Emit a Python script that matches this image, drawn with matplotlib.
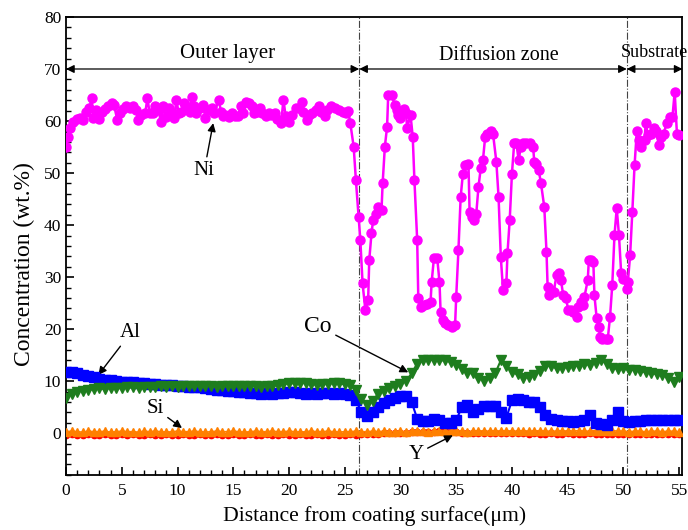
import numpy as np
import matplotlib
matplotlib.use("Agg")
import matplotlib.pyplot as plt
from matplotlib.ticker import MultipleLocator

plt.rcParams['font.family'] = ['Liberation Serif', 'DejaVu Serif']
plt.rcParams['mathtext.fontset'] = 'stix'

# ---------------- data ----------------
ni_x = [0.0, 0.2, 0.35, 0.66, 0.95, 1.25, 1.55, 1.8, 2.1, 2.3, 2.45, 2.7, 3.0, 3.2, 3.5, 3.8, 4.1, 4.3, 4.6, 4.8,
        5.1, 5.4, 5.7, 6.0, 6.3, 6.45, 6.75, 7.1, 7.3, 7.5, 7.8, 8.0, 8.3, 8.5, 8.7, 9.0, 9.2, 9.5, 9.7, 9.9,
        10.1, 10.3, 10.6, 10.8, 11.1, 11.3, 11.5, 11.7, 12.0, 12.3, 12.5, 12.8, 13.1, 13.3, 13.7, 13.9, 14.1, 14.3, 14.6, 14.9,
        15.2, 15.4, 15.7, 15.9, 16.1, 16.4, 16.7, 16.9, 17.1, 17.4, 17.6, 17.9, 18.2, 18.4, 18.7, 18.9, 19.3, 19.5, 19.7, 20.0,
        20.3, 20.6, 20.9, 21.2, 21.3, 21.6, 21.8, 22.1, 22.4, 22.7, 22.9, 23.2, 23.4, 23.8, 24.1, 24.5, 24.8, 25.1, 25.3, 25.5,
        25.8, 26.0, 26.25, 26.4, 26.6, 26.85, 27.1, 27.2, 27.4, 27.55, 27.8, 28.0, 28.3, 28.4, 28.6, 28.8, 28.9, 29.2, 29.5, 29.7,
        29.8, 30.0, 30.3, 30.5, 30.6, 30.9, 31.1, 31.25, 31.5, 31.6, 31.8, 32.1, 32.4, 32.7, 32.8, 33.0, 33.3, 33.5, 33.6, 33.8,
        34.0, 34.3, 34.6, 34.9, 35.0, 35.2, 35.4, 35.6, 35.8, 36.1, 36.2, 36.4, 36.6, 36.8, 37.0, 37.2, 37.4, 37.6, 37.8, 38.1,
        38.3, 38.6, 38.8, 39.0, 39.2, 39.5, 39.6, 39.8, 40.0, 40.2, 40.4, 40.6, 40.8, 41.0, 41.3, 41.6, 41.9, 42.0, 42.2, 42.4,
        42.6, 42.9, 43.1, 43.2, 43.3, 43.5, 43.75, 44.0, 44.2, 44.4, 44.6, 44.85, 45.05, 45.3, 45.5, 45.8, 45.95, 46.2, 46.4, 46.5,
        46.8, 46.9, 47.1, 47.3, 47.4, 47.6, 47.8, 47.9, 48.1, 48.4, 48.6, 48.8, 49.0, 49.2, 49.4, 49.6, 49.8, 50.0, 50.3, 50.4,
        50.6, 50.8, 51.0, 51.2, 51.4, 51.6, 51.9, 52.0, 52.2, 52.5, 52.7, 52.9, 53.2, 53.4, 53.6, 53.9, 54.2, 54.4, 54.6, 54.8,
        55.0]
ni_y = [55.0, 57.0, 58.6, 59.9, 60.3, 60.5, 60.2, 61.8, 62.5, 64.4, 60.5, 62.1, 60.3, 61.8, 62.3, 62.8, 63.5, 63.1, 60.2, 61.5,
        62.3, 62.8, 62.6, 62.9, 62.1, 60.2, 61.2, 61.5, 64.4, 61.5, 61.5, 62.8, 62.1, 59.9, 62.8, 60.8, 62.5, 61.5, 60.5, 64.1,
        61.5, 61.8, 63.4, 62.8, 61.8, 64.7, 62.8, 61.5, 62.5, 63.1, 60.5, 62.1, 62.5, 61.5, 64.1, 61.8, 61.0, 61.2, 60.7, 61.5,
        60.9, 61.0, 62.8, 61.5, 63.7, 63.4, 62.8, 61.5, 61.8, 62.5, 61.5, 61.0, 61.5, 61.2, 61.5, 60.3, 59.6, 64.1, 60.9, 59.9,
        61.2, 62.5, 62.5, 63.7, 61.8, 60.2, 61.2, 61.5, 62.1, 62.8, 61.8, 60.9, 62.1, 62.8, 62.5, 62.1, 61.8, 61.5, 62.0, 59.6,
        55.1, 48.7, 41.6, 37.1, 28.8, 23.7, 25.6, 33.3, 38.4, 41.0, 42.2, 43.5, 42.9, 48.0, 55.1, 58.9, 65.0, 65.0, 63.1, 62.1,
        61.2, 60.5, 62.4, 61.5, 58.6, 61.2, 57.0, 48.7, 37.1, 25.9, 24.3, 24.6, 24.9, 25.3, 29.1, 33.6, 33.6, 29.1, 23.3, 21.7,
        21.1, 20.8, 20.5, 20.8, 26.2, 35.2, 45.4, 49.9, 51.5, 51.8, 42.6, 41.6, 41.0, 42.2, 47.4, 50.9, 52.5, 57.0, 57.6, 58.0,
        57.6, 52.2, 45.4, 33.9, 27.5, 28.8, 34.6, 41.0, 49.9, 55.7, 55.7, 52.5, 55.1, 55.7, 55.7, 55.8, 55.1, 52.2, 51.8, 50.6,
        48.1, 43.5, 34.9, 28.2, 26.5, 27.5, 27.2, 30.4, 30.7, 29.4, 26.5, 25.9, 23.7, 23.7, 23.3, 22.4, 24.3, 25.3, 24.6, 26.2,
        29.4, 33.3, 33.3, 33.0, 26.5, 22.1, 20.5, 18.5, 18.2, 18.2, 18.2, 22.4, 28.5, 38.1, 43.2, 38.1, 30.7, 29.7, 27.8, 29.1,
        34.2, 42.6, 51.5, 58.0, 56.4, 55.1, 56.4, 59.6, 57.3, 57.6, 58.6, 58.0, 55.4, 57.0, 57.6, 59.6, 60.8, 60.8, 65.6, 57.6,
        57.3]

# thin-profile series sampled every 0.5 um from 0 to 55 um
dist = [i * 0.5 for i in range(111)]
al_y = [11.8, 11.7, 11.5, 11.2, 11.0, 10.8, 10.5, 10.3, 10.2, 10.0, 9.9, 9.9, 9.8, 9.7, 9.6, 9.5, 9.4, 9.3, 9.3, 9.2,
        9.1, 9.0, 8.9, 8.9, 8.8, 8.6, 8.5, 8.4, 8.3, 8.2, 8.1, 8.0, 8.0, 7.8, 7.7, 7.6, 7.7, 7.6, 7.7, 7.8,
        8.0, 7.9, 7.8, 7.6, 7.7, 7.6, 7.7, 7.7, 7.6, 7.7, 7.6, 7.4, 6.4, 4.0, 3.4, 4.0, 5.1, 5.8, 6.4, 6.8,
        7.1, 7.1, 6.0, 2.8, 2.3, 2.3, 2.8, 2.6, 1.9, 1.9, 2.5, 5.0, 5.5, 4.1, 4.6, 5.2, 5.3, 5.2, 4.0, 3.0,
        6.3, 6.5, 6.3, 6.1, 6.0, 5.0, 3.5, 2.7, 2.6, 2.4, 2.3, 2.2, 2.3, 2.5, 3.5, 2.0, 1.7, 1.6, 2.5, 4.0,
        2.3, 2.2, 2.3, 2.4, 2.5, 2.5, 2.5, 2.6, 2.6, 2.5, 2.5]
co_y = [6.7, 7.6, 8.0, 8.2, 8.3, 8.5, 8.6, 8.5, 8.7, 8.6, 8.7, 8.8, 8.8, 8.7, 8.9, 8.8, 8.9, 9.0, 8.9, 9.0,
        8.9, 9.0, 9.1, 9.0, 9.1, 9.0, 9.1, 8.9, 9.0, 9.0, 9.1, 9.0, 9.1, 9.0, 9.0, 8.9, 9.0, 9.1, 9.25, 9.4,
        9.6, 9.6, 9.7, 9.6, 9.5, 9.3, 9.4, 9.5, 9.7, 9.6, 9.4, 9.2, 8.3, 6.6, 5.4, 6.2, 7.6, 8.2, 8.7, 9.1,
        9.5, 10.0, 11.5, 13.4, 14.0, 14.1, 14.1, 14.0, 14.0, 13.7, 13.2, 12.3, 11.6, 11.5, 10.7, 10.0, 10.6, 11.5, 14.0, 13.0,
        11.8, 11.3, 10.6, 10.8, 11.2, 12.0, 13.0, 12.9, 12.5, 12.5, 12.8, 12.9, 13.0, 13.4, 13.1, 13.5, 14.1, 13.3, 12.5, 12.4,
        12.5, 12.1, 12.2, 12.0, 11.7, 11.5, 11.4, 11.2, 10.6, 9.9, 10.8]
si_y = [0.3, 0.4, 0.3, 0.2, 0.4, 0.3, 0.3, 0.4, 0.2, 0.3, 0.4, 0.3, 0.3, 0.2, 0.4, 0.3, 0.4, 0.3, 0.2, 0.3,
        0.4, 0.3, 0.3, 0.4, 0.3, 0.2, 0.3, 0.4, 0.3, 0.3, 0.4, 0.3, 0.2, 0.3, 0.4, 0.3, 0.3, 0.4, 0.3, 0.3,
        0.4, 0.3, 0.2, 0.3, 0.4, 0.3, 0.3, 0.4, 0.3, 0.2, 0.3, 0.3, 0.4, 0.3, 0.3, 0.4, 0.3, 0.4, 0.3, 0.3,
        0.4, 0.3, 0.4, 0.5, 0.4, 0.3, 0.4, 0.5, 0.4, 0.4, 0.5, 0.4, 0.3, 0.4, 0.5, 0.4, 0.4, 0.5, 0.4, 0.5,
        0.4, 0.4, 0.5, 0.4, 0.4, 0.5, 0.4, 0.4, 0.4, 0.5, 0.4, 0.4, 0.5, 0.4, 0.4, 0.5, 0.4, 0.4, 0.5, 0.4,
        0.4, 0.3, 0.4, 0.4, 0.3, 0.4, 0.4, 0.3, 0.4, 0.4, 0.3]
y_y = [-0.3, -0.2, -0.3, -0.3, -0.2, -0.3, -0.3, -0.2, -0.3, -0.3, -0.2, -0.3, -0.2, -0.3, -0.3, -0.2, -0.3, -0.3, -0.2, -0.3,
       -0.3, -0.2, -0.3, -0.3, -0.2, -0.3, -0.3, -0.2, -0.3, -0.3, -0.2, -0.3, -0.3, -0.2, -0.3, -0.3, -0.2, -0.3, -0.3, -0.2,
       -0.3, -0.3, -0.2, -0.3, -0.3, -0.2, -0.3, -0.3, -0.2, -0.3, -0.3, -0.2, -0.3, -0.2, -0.2, -0.1, -0.1, 0.0, 0.0, 0.1,
       0.1, 0.1, 0.2, 0.2, 0.2, 0.3, 0.3, 0.4, 0.4, 0.3, 0.2, 0.1, 0.1, 0.0, 0.0, 0.0, 0.1, 0.0, 0.0, 0.1,
       0.0, 0.0, 0.0, -0.1, 0.0, -0.1, -0.1, 0.0, -0.1, -0.1, 0.0, -0.1, -0.1, -0.1, 0.0, -0.1, -0.1, -0.1, -0.1, -0.1,
       -0.2, -0.2, -0.2, -0.1, -0.2, -0.2, -0.2, -0.2, -0.2, -0.2, -0.2]

zone_bounds = [0.0, 26.3, 50.3, 55.3]
zone_names = ["Outer layer", "Diffusion zone", "Substrate"]
x_ticks = [0, 5, 10, 15, 20, 25, 30, 35, 40, 45, 50, 55]
y_ticks = [0, 10, 20, 30, 40, 50, 60, 70, 80]

# ---------------- figure ----------------
fig = plt.figure(figsize=(6.88, 5.30), dpi=100)
ax = fig.add_axes([0.096, 0.104, 0.896, 0.864])

ax.plot(dist, y_y, color='#FF0000', marker='o', ms=4.5, lw=1.2, zorder=2)
ax.plot(dist, si_y, color='#FF8000', marker='^', ms=6.0, lw=1.2, zorder=3)
ax.plot(dist, al_y, color='#0000FF', marker='s', ms=6.5, lw=1.5, zorder=4)
ax.plot(dist, co_y, color='#1E7D1E', marker='v', ms=7.5, lw=1.5, zorder=5)
ax.plot(ni_x, ni_y, color='#FF00FF', marker='o', ms=6.5, lw=1.8, zorder=6)

# zone separators
for xb in zone_bounds[1:3]:
    ax.axvline(xb, color='#444444', lw=0.8, ls='-.', zorder=1)

# zone arrows and names
for i, name in enumerate(zone_names):
    x0, x1 = zone_bounds[i], zone_bounds[i + 1]
    ax.annotate('', xy=(x1, 70), xytext=(x0, 70),
                arrowprops=dict(arrowstyle='<|-|>', color='black', lw=0.9,
                                mutation_scale=12, shrinkA=0, shrinkB=0), zorder=7)
name_pos = [(14.5, 73.0), (38.8, 72.6), (52.8, 73.2)]
name_size = [15, 14.5, 13]
for (px, py), name, fs in zip(name_pos, zone_names, name_size):
    ax.text(px, py, name, ha='center', va='center', fontsize=fs)

def ann(label, tip, txt, fs=15):
    ax.annotate(label, xy=tip, xytext=txt, fontsize=fs, ha='center', va='center',
                arrowprops=dict(arrowstyle='-|>', color='black', lw=1.0,
                                mutation_scale=12, shrinkA=1, shrinkB=0))

ann('Ni', (13.2, 59.6), (12.4, 50.5))
ann('Al', (2.9, 11.2), (5.8, 19.3))
ann('Si', (10.4, 1.0), (8.0, 4.8))
ann('Co', (30.7, 11.7), (22.6, 20.6), fs=17)
ann('Y', (34.7, -0.4), (31.4, -4.0))

ax.set_xlim(0, 55.3)
ax.set_ylim(-8, 80)
ax.set_xticks(x_ticks)
ax.set_yticks(y_ticks)
ax.xaxis.set_minor_locator(MultipleLocator(1))
ax.yaxis.set_minor_locator(MultipleLocator(2))
ax.tick_params(which='major', direction='in', length=6, width=1.2, labelsize=12.5,
               top=False, right=False)
ax.tick_params(axis='x', which='major', pad=6)
ax.tick_params(which='minor', direction='in', length=3.5, width=1.0, top=False, right=False)
for sp in ax.spines.values():
    sp.set_linewidth(1.3)

ax.set_xlabel('Distance from coating surface(\u03bcm)', fontsize=15.6, labelpad=5)
ax.set_ylabel('Concentration (wt.%)', fontsize=17, labelpad=4)
ax.yaxis.set_label_coords(-0.05, 0.46)

fig.savefig('out.png', dpi=100)
